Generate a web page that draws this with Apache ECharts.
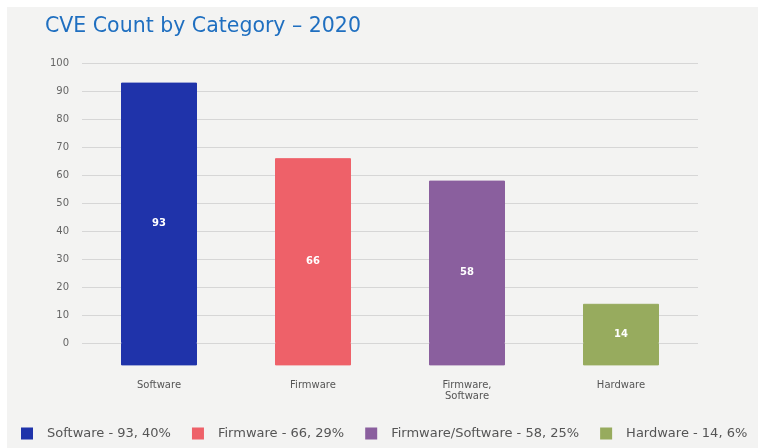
<!DOCTYPE html>
<html><head><meta charset="utf-8">
<script src="https://cdn.jsdelivr.net/npm/echarts@6/dist/echarts.min.js"></script>
<style>
html,body{margin:0;padding:0;background:#ffffff;width:758px;height:448px;overflow:hidden;}
#c{position:absolute;left:7px;top:7px;width:751px;height:441px;background:#f3f3f2;}
</style></head>
<body><div id="c"></div>
<script>
const categories = ['Software', 'Firmware', 'Firmware,\nSoftware', 'Hardware'];
const legendCats = ['Software', 'Firmware', 'Firmware/Software', 'Hardware'];
const values = [93, 66, 58, 14];
const percents = [40, 29, 25, 6];
const colors = ['#1f33aa', '#ee6169', '#8a5f9e', '#97ab5e'];
const yTicks = [0, 10, 20, 30, 40, 50, 60, 70, 80, 90, 100];
const baseDepth = -8;

const legendNames = legendCats.map((c, i) => `${c} - ${values[i]}, ${percents[i]}%`);
const FONT = 'DejaVu Sans';

const series = values.map((v, i) => ({
  name: legendNames[i],
  type: 'bar',
  stack: 'total',
  barWidth: 76,
  z: 3,
  itemStyle: { color: colors[i], borderColor: colors[i], borderWidth: 1 },
  data: values.map((_, j) => (j === i ? v : '-')),
  label: {
    show: true, position: 'inside', offset: [0, 11],
    color: '#ffffff', fontSize: 10, fontWeight: 'bold', fontFamily: FONT
  }
}));
series.push({
  name: 'base',
  type: 'bar',
  stack: 'total',
  barWidth: 76,
  z: 3,
  silent: true,
  data: values.map((_, i) => ({ value: baseDepth, itemStyle: { color: colors[i], borderColor: colors[i], borderWidth: 1 } })),
  label: { show: false }
});

const splitColors = ['rgba(0,0,0,0)'].concat(yTicks.map(() => '#d6d6d6'));

const chart = echarts.init(document.getElementById('c'));
chart.setOption({
  animation: false,
  backgroundColor: '#f3f3f2',
  title: {
    text: 'CVE Count by Category – 2020',
    left: 33, top: 4,
    textStyle: { color: '#1f6fc0', fontSize: 20.5, fontWeight: 'normal', fontFamily: FONT }
  },
  legend: {
    data: legendNames,
    left: 14, bottom: 8, padding: 0, width: 745,
    icon: 'rect', itemWidth: 10, itemHeight: 10, itemGap: 21,
    textStyle: { color: '#555555', fontSize: 13, fontFamily: FONT, padding: [0, 0, 0, 10] }
  },
  grid: { left: 75, right: 60, top: 56, bottom: 77 },
  xAxis: {
    type: 'category',
    data: categories,
    axisLine: { show: false },
    axisTick: { show: false },
    axisLabel: { color: '#555555', fontSize: 10, fontFamily: FONT, margin: 9, lineHeight: 11 }
  },
  yAxis: {
    type: 'value',
    min: -10, max: 100, interval: 10,
    axisLine: { show: false },
    axisTick: { show: false },
    axisLabel: { showMinLabel: false, color: '#666666', fontSize: 10, fontFamily: FONT, margin: 13 },
    splitLine: { lineStyle: { color: splitColors, width: 1 } }
  },
  series: series
});
</script></body></html>
